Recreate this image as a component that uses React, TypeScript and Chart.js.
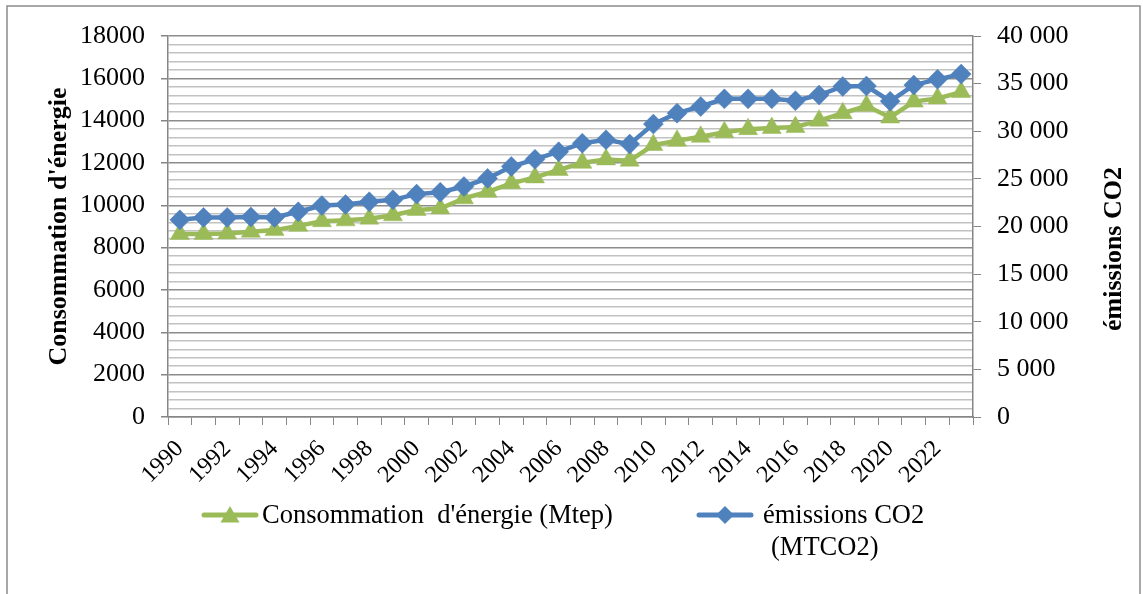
import React, { useEffect, useRef } from 'react';
import { Chart, registerables } from 'chart.js';

Chart.register(...registerables);

// ---------- data ----------
const years: string[] = [
  '1990', '1991', '1992', '1993', '1994', '1995', '1996', '1997', '1998', '1999',
  '2000', '2001', '2002', '2003', '2004', '2005', '2006', '2007', '2008', '2009',
  '2010', '2011', '2012', '2013', '2014', '2015', '2016', '2017', '2018', '2019',
  '2020', '2021', '2022', '2023',
];

// Consommation d'énergie (Mtep) — left axis
const energyMtep: number[] = [
  8650, 8650, 8670, 8750, 8830, 9030, 9250, 9290, 9370, 9530,
  9780, 9850, 10330, 10640, 11040, 11320, 11670, 12010, 12170, 12110,
  12850, 13050, 13240, 13450, 13600, 13650, 13700, 14000, 14350, 14700,
  14150, 14900, 15050, 15350,
];

// émissions CO2 (MTCO2) — right axis
const co2Mt: number[] = [
  20700, 20950, 20950, 21000, 20950, 21550, 22200, 22300, 22600, 22800,
  23400, 23600, 24200, 25050, 26300, 27050, 27850, 28750, 29100, 28650,
  30750, 31900, 32600, 33400, 33400, 33400, 33200, 33800, 34700, 34750,
  33150, 34850, 35450, 36000,
];

const energyLabel = "Consommation  d'énergie (Mtep)";
const co2LabelLines = ['émissions CO2', '(MTCO2)'];
const leftTitle = "Consommation d'énergie";
const rightTitle = 'émissions CO2';

const leftMax = 18000;
const leftMajorStep = 2000;
const leftMinorStep = 400;
const rightMax = 40000;
const rightStep = 5000;

// ---------- styles ----------
const GREEN = '#9bbb59';
const BLUE = '#4f81bd';
const AXIS = '#868686';
const FAMILY = "'Liberation Serif', 'Times New Roman', serif";

function fmtSpace(v: number): string {
  return String(Math.round(v)).replace(/\B(?=(\d{3})+(?!\d))/g, ' ');
}

function triPath(ctx: CanvasRenderingContext2D, x: number, y: number, r: number) {
  ctx.beginPath();
  ctx.moveTo(x, y - r);
  ctx.lineTo(x + 0.866 * r, y + 0.5 * r);
  ctx.lineTo(x - 0.866 * r, y + 0.5 * r);
  ctx.closePath();
}

function diamondPath(ctx: CanvasRenderingContext2D, x: number, y: number, r: number) {
  ctx.beginPath();
  ctx.moveTo(x, y - r);
  ctx.lineTo(x + r, y);
  ctx.lineTo(x, y + r);
  ctx.lineTo(x - r, y);
  ctx.closePath();
}

export default function App() {
  const ref = useRef<HTMLCanvasElement | null>(null);

  useEffect(() => {
    const canvas = ref.current;
    if (!canvas) return;

    const framePlugin = {
      id: 'frame',
      beforeDraw(chart: any) {
        const ctx: CanvasRenderingContext2D = chart.ctx;
        ctx.save();
        ctx.fillStyle = '#ffffff';
        ctx.fillRect(0, 0, chart.width, chart.height);
        ctx.strokeStyle = '#8c8c8c';
        ctx.lineWidth = 1.5;
        ctx.strokeRect(7, 6, 1133, 620);
        ctx.restore();
      },
    };

    const extrasPlugin = {
      id: 'extras',
      afterDraw(chart: any) {
        const ctx: CanvasRenderingContext2D = chart.ctx;
        const area = chart.chartArea;
        ctx.save();
        ctx.fillStyle = '#000';
        ctx.font = `bold 26px ${FAMILY}`;
        ctx.textAlign = 'center';
        ctx.textBaseline = 'middle';
        // left title
        ctx.save();
        ctx.translate(59, (area.top + area.bottom) / 2);
        ctx.rotate(-Math.PI / 2);
        ctx.fillText(leftTitle, 0, 0);
        ctx.restore();
        // right title
        ctx.save();
        ctx.translate(1114, 249);
        ctx.rotate(-Math.PI / 2);
        ctx.fillText(rightTitle, 0, 0);
        ctx.restore();

        // legend
        const ds = chart.data.datasets;
        const ly = 515;
        ctx.strokeStyle = ds[0].borderColor;
        ctx.lineWidth = 5;
        ctx.lineCap = 'round';
        ctx.beginPath();
        ctx.moveTo(204, ly);
        ctx.lineTo(256, ly);
        ctx.stroke();
        ctx.fillStyle = ds[0].borderColor;
        triPath(ctx, 230, ly + 2, 11);
        ctx.fill();

        ctx.strokeStyle = ds[1].borderColor;
        ctx.beginPath();
        ctx.moveTo(699, ly);
        ctx.lineTo(751, ly);
        ctx.stroke();
        ctx.fillStyle = ds[1].borderColor;
        diamondPath(ctx, 725, ly, 9);
        ctx.fill();

        ctx.fillStyle = '#000';
        ctx.font = `26.5px ${FAMILY}`;
        ctx.textAlign = 'left';
        ctx.textBaseline = 'alphabetic';
        ctx.fillText(ds[0].label, 262, 523);
        ctx.fillText(co2LabelLines[0], 763, 523);
        ctx.fillText(co2LabelLines[1], 771, 555);
        ctx.restore();
      },
    };

    const chart = new Chart(canvas, {
      type: 'line',
      data: {
        labels: years,
        datasets: [
          {
            label: energyLabel,
            data: energyMtep,
            yAxisID: 'y',
            borderColor: GREEN,
            backgroundColor: GREEN,
            borderWidth: 4.5,
            pointStyle: 'triangle',
            pointRadius: 11,
            pointBorderWidth: 0.5,
            pointBackgroundColor: GREEN,
            pointBorderColor: GREEN,
            tension: 0,
            order: 1,
          },
          {
            label: co2LabelLines.join(' '),
            data: co2Mt,
            yAxisID: 'y1',
            borderColor: BLUE,
            backgroundColor: BLUE,
            borderWidth: 4.5,
            pointStyle: 'rectRot',
            pointRadius: 10,
            pointBorderWidth: 0.5,
            pointBackgroundColor: BLUE,
            pointBorderColor: BLUE,
            tension: 0,
            order: 0,
          },
        ],
      },
      options: {
        animation: false,
        responsive: false,
        devicePixelRatio: 1,
        layout: { padding: { top: 36, left: 0, right: 0, bottom: 0 } },
        plugins: {
          legend: { display: false },
          tooltip: { enabled: false },
          title: { display: false },
        },
        scales: {
          x: {
            type: 'category',
            offset: true,
            grid: {
              display: true,
              drawOnChartArea: false,
              drawTicks: true,
              tickLength: 8,
              tickColor: AXIS,
              offset: true,
              lineWidth: 1,
            },
            border: { display: true, color: AXIS, width: 1.5 },
            ticks: {
              autoSkip: false,
              maxRotation: 45,
              minRotation: 45,
              padding: 10,
              color: '#000',
              font: { size: 24, family: FAMILY },
              callback: (_v: any, i: number) => (i % 2 === 0 ? years[i] : ''),
            },
            afterFit: (s: any) => {
              s.height = 177;
            },
          },
          y: {
            type: 'linear',
            position: 'left',
            min: 0,
            max: leftMax,
            ticks: {
              stepSize: leftMinorStep,
              maxTicksLimit: 200,
              autoSkip: false,
              padding: 16,
              color: '#000',
              font: { size: 26, family: FAMILY },
              callback: (v: any) => (Number(v) % leftMajorStep === 0 ? String(v) : ''),
            },
            grid: {
              color: (c: any) =>
                c.tick && c.tick.value % leftMajorStep === 0 ? '#8c8c8c' : '#c2c2c2',
              lineWidth: 1.5,
              tickLength: 7,
              tickColor: (c: any) =>
                c.tick && c.tick.value % leftMajorStep === 0 ? AXIS : 'rgba(0,0,0,0)',
            },
            border: { display: true, color: AXIS, width: 1.5 },
            afterFit: (s: any) => {
              s.width = 168;
            },
          },
          y1: {
            type: 'linear',
            position: 'right',
            min: 0,
            max: rightMax,
            ticks: {
              stepSize: rightStep,
              autoSkip: false,
              padding: 16,
              color: '#000',
              font: { size: 26, family: FAMILY },
              callback: (v: any) => fmtSpace(Number(v)),
            },
            grid: {
              drawOnChartArea: false,
              tickLength: 8,
              tickColor: AXIS,
            },
            border: { display: true, color: AXIS, width: 1.5 },
            afterFit: (s: any) => {
              s.width = 170;
            },
          },
        },
      } as any,
      plugins: [framePlugin, extrasPlugin],
    });

    return () => {
      chart.destroy();
    };
  }, []);

  return (
    <div style={{ position: 'fixed', left: 0, top: 0, width: 1143, height: 594, background: '#fff' }}>
      <canvas ref={ref} width={1143} height={594} style={{ display: 'block' }} />
    </div>
  );
}
